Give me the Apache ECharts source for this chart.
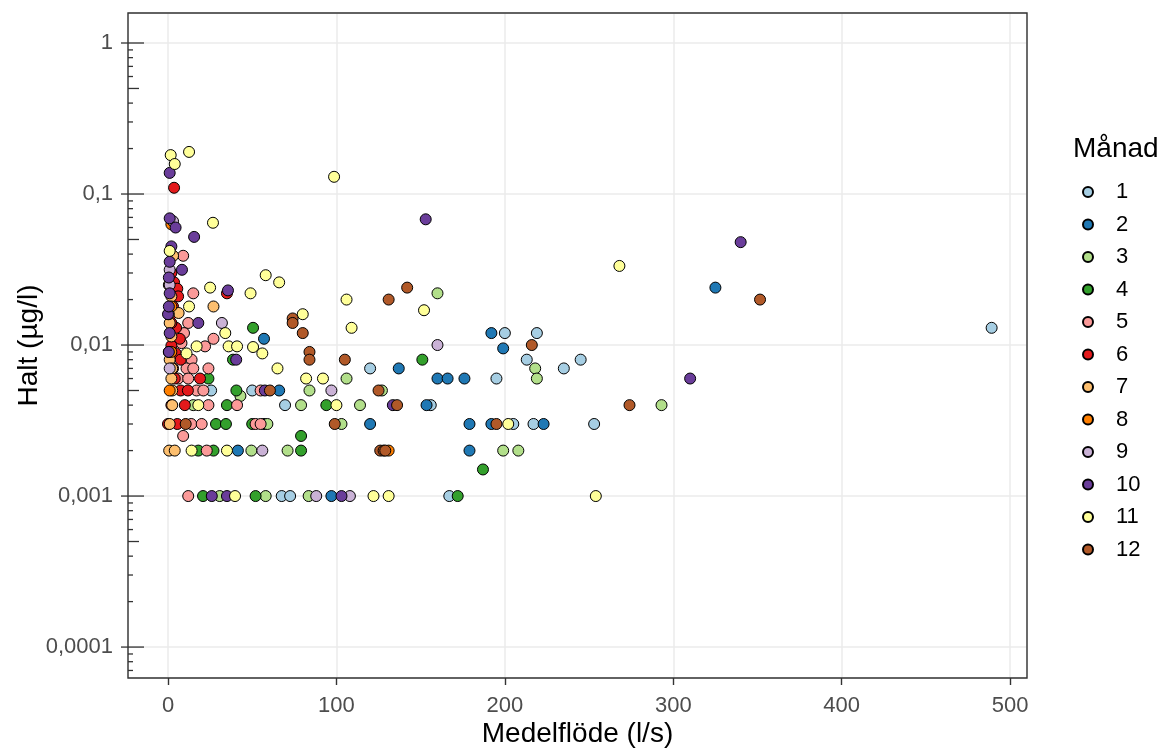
<!DOCTYPE html>
<html>
<head>
<meta charset="utf-8">
<title>Halt mot medelflöde</title>
<script src="https://cdn.jsdelivr.net/npm/echarts@6/dist/echarts.min.js"></script>
<style>
  html, body { margin: 0; padding: 0; background: #fff; }
  #main { width: 1163px; height: 749px; }
</style>
</head>
<body>
<div id="main"></div>
<script>
// månader och färger (Paired)
var months = ['1','2','3','4','5','6','7','8','9','10','11','12'];
var monthColors = ['#A6CEE3','#1F78B4','#B2DF8A','#33A02C','#FB9A99','#E31A1C',
                   '#FDBF6F','#FF7F00','#CAB2D6','#6A3D9A','#FFFF99','#B15928'];

// [medelflöde l/s, halt µg/l] per månad
var m1 = [[489,0.013],[253,0.003],[245,0.008],[235,0.007],[219,0.012],[213,0.008],[217,0.003],
  [205,0.003],[200,0.012],[195,0.006],[167,0.001],[156,0.004],[120,0.007],[25.6,0.005],
  [50,0.005],[69.5,0.004],[67.5,0.001],[72.5,0.001]];
var m2 = [[325,0.024],[192,0.012],[199,0.0095],[137,0.007],[160,0.006],[166,0.006],[176,0.006],
  [153.5,0.004],[120,0.003],[179,0.003],[192,0.003],[223,0.003],[179,0.002],[97,0.001],
  [57,0.011],[66,0.005],[57,0.003],[41.5,0.002]];
var m3 = [[160,0.022],[218,0.007],[106,0.006],[219,0.006],[127,0.005],[114,0.004],[103,0.003],
  [199,0.002],[208,0.002],[293,0.004],[43,0.0046],[84,0.005],[79,0.004],[15,0.004],[59,0.003],
  [49.5,0.002],[71,0.002],[30.7,0.001],[58,0.001],[83.5,0.001]];
var m4 = [[151,0.008],[94,0.004],[187,0.0015],[172,0.001],[50.5,0.013],[38.6,0.008],[24,0.006],
  [40.6,0.005],[35,0.004],[28.5,0.003],[34.4,0.003],[50,0.003],[79,0.0025],[18,0.002],[27,0.002],
  [79,0.002],[20.8,0.001],[52,0.001]];
var m5 = [[15,0.022],[12,0.014],[27,0.011],[22,0.0098],[9,0.039],[8,0.0103],[9.5,0.012],[14,0.008],
  [11,0.007],[24,0.007],[15,0.007],[6,0.006],[12,0.006],[17,0.005],[21,0.005],[55,0.005],[24,0.004],
  [41,0.004],[13.8,0.003],[20,0.003],[52,0.003],[55,0.003],[9,0.0025],[23,0.002],[12,0.001]];
var m6 = [[3.6,0.11],[3.6,0.026],[5.5,0.0236],[6,0.021],[35,0.022],[4.8,0.013],[2,0.014],[7,0.011],
  [2,0.0099],[4.6,0.0088],[7.5,0.008],[19,0.006],[7.5,0.005],[11.8,0.005],[10,0.004],[0,0.003],
  [5.5,0.003],[2,0.03],[3,0.018],[2,0.016],[3,0.007],[2,0.004],[4,0.006]];
var m7 = [[3,0.039],[2,0.021],[6.3,0.0163],[27,0.018],[2,0.0114],[1,0.008],[2.5,0.007],[2,0.006],
  [2.5,0.005],[2.5,0.004],[0.7,0.002],[4,0.002],[0.5,0.025],[1,0.014],[0.5,0.009],[1,0.003]];
var m8 = [[2,0.018],[131,0.002],[2,0.063],[2,0.009],[1,0.005]];
var m9 = [[3,0.066],[1,0.0315],[32,0.014],[160,0.01],[97,0.005],[56,0.002],[88,0.001],[108,0.001],
  [1,0.025],[0.5,0.016],[1,0.007]];
var m10 = [[1,0.138],[1,0.069],[4.5,0.06],[15.5,0.052],[2,0.045],[1,0.0356],[8.3,0.0315],[35.6,0.023],
  [18,0.014],[0,0.016],[40.5,0.008],[57.5,0.005],[133.5,0.004],[103,0.001],[26,0.001],[35,0.001],
  [153,0.068],[340,0.048],[310,0.006],[0.5,0.028],[1,0.022],[0.5,0.018],[1,0.012],[0.5,0.009]];
var m11 = [[1.6,0.181],[12.5,0.19],[4,0.158],[98.6,0.13],[26.7,0.0645],[1,0.042],[58,0.029],[66,0.026],
  [25,0.024],[49,0.022],[12.5,0.018],[80,0.016],[34,0.012],[17,0.0098],[36,0.0098],[41,0.0098],
  [50.5,0.0097],[56,0.0088],[11,0.0088],[65,0.007],[82,0.006],[92,0.006],[18,0.004],[100,0.004],
  [14,0.002],[35,0.002],[39.8,0.001],[122,0.001],[131,0.001],[254,0.001],[106,0.02],[152,0.017],
  [109,0.013],[268,0.0334],[202,0.003]];
var m12 = [[142,0.024],[131,0.02],[216,0.01],[105,0.008],[125,0.005],[136,0.004],[274,0.004],[99,0.003],
  [195,0.003],[126,0.002],[128,0.002],[129,0.002],[351.5,0.02],[74,0.015],[74,0.014],[80,0.012],
  [84,0.009],[84,0.008],[60.5,0.005],[10.5,0.003]];
var monthData = [m1,m2,m3,m4,m5,m6,m7,m8,m9,m10,m11,m12];

// log-tick-markeringar på y-axeln
var decades = [-5,-4,-3,-2,-1,0];
var mantissas = [1,2,3,4,5,6,7,8,9];
var yMin = 0.0000624, yMax = 1.58;

var logTicks = [];
decades.forEach(function (d) {
    mantissas.forEach(function (m) {
        var v = m * Math.pow(10, d);
        if (v >= yMin && v <= yMax) logTicks.push([0, v]);
    });
});

var font = 'Liberation Sans, Arial, sans-serif';

var series = [];
for (var i = 0; i < months.length; i++) {
    series.push({
        name: months[i],
        type: 'scatter',
        data: monthData[i],
        symbol: 'circle',
        symbolSize: 11,
        itemStyle: { color: monthColors[i], borderColor: '#000', borderWidth: 1, opacity: 1 },
        emphasis: { disabled: true }
    });
}
series.push({
    name: 'logticks',
    type: 'custom',
    silent: true,
    z: 5,
    data: logTicks,
    encode: { x: 0, y: 1 },
    renderItem: function (params, api) {
        var v = api.value(1);
        var p = api.coord([0, v]);
        var cs = params.coordSys;
        var m = Math.round(v / Math.pow(10, Math.floor(Math.log10(v) + 1e-9)));
        var len = m === 1 ? 16 : (m === 5 ? 11 : 5);
        return {
            type: 'line',
            shape: { x1: cs.x - (m === 1 ? 7 : 0), y1: p[1], x2: cs.x + len, y2: p[1] },
            style: { stroke: '#333', lineWidth: 1.3 }
        };
    }
});

var myChart = echarts.init(document.getElementById('main'));
myChart.setOption({
    backgroundColor: '#fff',
    animation: false,
    title: {
        text: 'Månad',
        left: 1068,
        top: 130,
        textStyle: { fontFamily: font, fontSize: 28, fontWeight: 'normal', color: '#000' }
    },
    legend: {
        data: months,
        orient: 'vertical',
        left: 1077,
        top: 176,
        itemWidth: 10,
        itemHeight: 10,
        itemGap: 10.5,
        icon: 'circle',
        selectedMode: false,
        textStyle: { fontFamily: font, fontSize: 22, color: '#000', padding: [0, 0, 0, 18] }
    },
    grid: {
        left: 128, right: 136, top: 13, bottom: 71,
        outerBoundsMode: 'none',
        containLabel: false,
        show: false
    },
    graphic: [{
        type: 'rect',
        z: 100,
        silent: true,
        shape: { x: 128, y: 13, width: 899, height: 665 },
        style: { fill: 'none', stroke: '#333', lineWidth: 1.4 }
    }],
    xAxis: {
        type: 'value',
        min: -23.75,
        max: 510,
        name: 'Medelflöde (l/s)',
        nameLocation: 'middle',
        nameGap: 42,
        nameMoveOverlap: false,
        nameTextStyle: { fontFamily: font, fontSize: 28, color: '#000' },
        axisLine: { show: false },
        axisTick: { show: true, length: 7, lineStyle: { color: '#333', width: 1.4 } },
        axisLabel: { fontFamily: font, fontSize: 22, color: '#4D4D4D', margin: 17,
                     showMinLabel: false, showMaxLabel: false },
        splitLine: { show: true, lineStyle: { color: '#EBEBEB', width: 1.5 } }
    },
    yAxis: {
        type: 'log',
        logBase: 10,
        min: yMin,
        max: yMax,
        name: 'Halt (µg/l)',
        nameLocation: 'middle',
        nameGap: 85,
        nameMoveOverlap: false,
        nameTextStyle: { fontFamily: font, fontSize: 28, color: '#000' },
        axisLine: { show: false },
        axisTick: { show: false },
        axisLabel: {
            fontFamily: font, fontSize: 22, color: '#4D4D4D', margin: 15,
            showMinLabel: false, showMaxLabel: false,
            formatter: function (v) {
                var k = Math.round(Math.log10(v));
                if (Math.abs(Math.log10(v) - k) > 1e-6) return '';
                if (k >= 0) return String(Math.pow(10, k));
                return Math.pow(10, k).toFixed(-k).replace('.', ',');
            }
        },
        splitLine: { show: true, lineStyle: { color: '#EBEBEB', width: 1.5 } }
    },
    series: series
});
</script>
</body>
</html>
